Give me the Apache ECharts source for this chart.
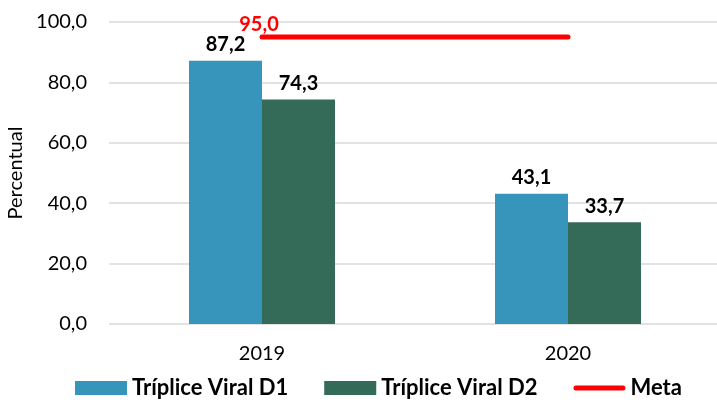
<!DOCTYPE html>
<html><head><meta charset="utf-8">
<script src="https://cdn.jsdelivr.net/npm/echarts@6/dist/echarts.min.js"></script>
<style>html,body{margin:0;padding:0;background:#fff}#c{width:717px;height:404px}</style>
</head><body><div id="c"></div>
<script>
const categories = ['2019', '2020'];
const d1 = [87.2, 43.1];
const d2 = [74.3, 33.7];
const meta = [95.0, 95.0];
const yTicks = [0, 20, 40, 60, 80, 100];

const fmt = v => Number(v).toFixed(1).replace('.', ',');
const FONT = 'Lato';
const chart = echarts.init(document.getElementById('c'));
chart.setOption({
  animation: false,
  textStyle: { fontFamily: FONT },
  grid: { left: 109, top: 22, right: -4, bottom: 80, containLabel: false, outerBoundsMode: 'none' },
  legend: {
    bottom: 0, left: 70, itemWidth: 52, itemHeight: 14, itemGap: 36,
    textStyle: { fontFamily: FONT, fontWeight: 'bold', fontSize: 22, color: '#000' },
    data: [
      { name: 'Tríplice Viral D1', icon: 'rect' },
      { name: 'Tríplice Viral D2', icon: 'rect' },
      { name: 'Meta', icon: 'path://M2.5,0 L49.5,0 A2.5,2.5 0 0 1 49.5,5 L2.5,5 A2.5,2.5 0 0 1 2.5,0 Z' }
    ]
  },
  xAxis: {
    type: 'category', data: categories,
    axisLine: { show: false }, axisTick: { show: false },
    axisLabel: { fontSize: 20, color: '#000', margin: 20, fontFamily: FONT }
  },
  yAxis: {
    type: 'value', min: yTicks[0], max: yTicks[yTicks.length - 1], interval: 20,
    name: 'Percentual', nameLocation: 'middle', nameGap: 80, nameRotate: 90,
    nameTextStyle: { fontSize: 20, color: '#000', fontFamily: FONT },
    axisLabel: { formatter: fmt, fontSize: 20, color: '#000', margin: 22, fontFamily: FONT },
    splitLine: { lineStyle: { color: '#D9D9D9', width: 1.5 } },
    axisLine: { show: false }, axisTick: { show: false }
  },
  series: [
    {
      name: 'Tríplice Viral D1', type: 'bar', data: d1, barWidth: 73, barGap: '0%',
      itemStyle: { color: '#3795BC' },
      label: { show: true, position: 'top', distance: 6, formatter: p => fmt(p.value),
        fontSize: 20, fontWeight: 'bold', color: '#000', fontFamily: FONT }
    },
    {
      name: 'Tríplice Viral D2', type: 'bar', data: d2, barWidth: 73, barGap: '0%',
      itemStyle: { color: '#346A58' },
      label: { show: true, position: 'top', distance: 6, formatter: p => fmt(p.value),
        fontSize: 20, fontWeight: 'bold', color: '#000', fontFamily: FONT }
    },
    {
      name: 'Meta', type: 'line', data: meta, symbol: 'none', z: 5,
      lineStyle: { color: '#FF0000', width: 5, cap: 'round' },
      itemStyle: { color: '#FF0000' },
      markPoint: {
        symbol: 'circle', symbolSize: 1, itemStyle: { color: 'rgba(0,0,0,0)' },
        data: [{ coord: [0, meta[0]], value: meta[0] }],
        label: { show: true, position: 'top', distance: 2, offset: [-3, 0], formatter: p => fmt(p.value),
          fontSize: 20, fontWeight: 'bold', color: '#FF0000', fontFamily: FONT }
      }
    }
  ]
});
</script></body></html>
